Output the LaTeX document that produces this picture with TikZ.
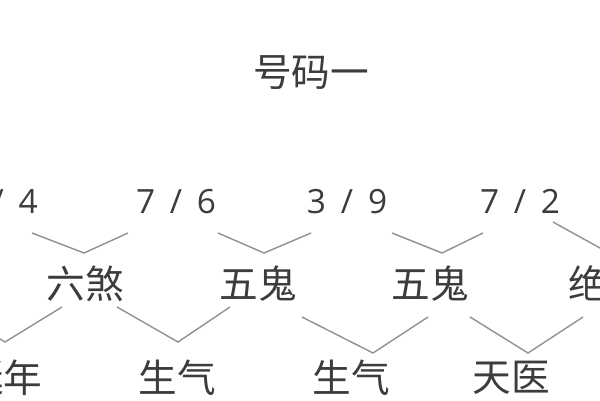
\documentclass[tikz,border=0pt]{standalone}
\usepackage{fontspec}
\newfontfamily\cjk{Noto Sans CJK SC}
\newfontfamily\numfont[WordSpace=1.7]{Open Sans}
\definecolor{inkgray}{RGB}{60,60,60}
\definecolor{linegray}{RGB}{145,145,145}
\usetikzlibrary{positioning}

\begin{document}
\begin{tikzpicture}[
    x=0.03cm, y=-0.03cm,
    % Define styles
    title/.style={font=\cjk\fontsize{33}{40}\selectfont, text=inkgray, inner sep=0pt},
    pair/.style={font=\numfont\fontsize{28.5}{34}\selectfont, text=inkgray, inner sep=0pt, anchor=base},
    star/.style={font=\cjk\fontsize{33}{40}\selectfont, text=inkgray, inner sep=0pt},
    link/.style={draw=linegray, line width=1.2pt}
]

% Frame
\fill[white] (0,0) rectangle (600,400);
\useasboundingbox (0,0) rectangle (600,400);
\clip (0,0) rectangle (600,400);

% Title
\node[title] (title) at (311, 73) {号码一};

% Number pairs
\node[pair, anchor=base east] (p1) at (38, 213) {/ 4};
\node[pair] (p2) at (176, 213) {7 / 6};
\node[pair] (p3) at (347, 213) {3\hspace{0.45em}/ 9};
\node[pair] (p4) at (520, 213) {7 / 2};

% First results
\node[star] (r1) at (85, 284) {六煞};
\node[star] (r2) at (258, 284) {五鬼};
\node[star] (r3) at (430, 284) {五鬼};
\node[star] (r4) at (607, 284) {绝命};

% Second results
\node[star] (s1) at (4, 378) {延年};
\node[star] (s2) at (177, 378) {生气};
\node[star] (s3) at (351, 378) {生气};
\node[star] (s4) at (511, 378) {天医};

% Joints of the first row
\coordinate (a1l) at (32, 233);  \coordinate (a1) at (84, 253);  \coordinate (a1r) at (128, 233);
\coordinate (a2l) at (218, 233); \coordinate (a2) at (264, 253); \coordinate (a2r) at (311, 233);
\coordinate (a3l) at (392, 233); \coordinate (a3) at (442, 253); \coordinate (a3r) at (483, 233);
\coordinate (a4l) at (553, 222); \coordinate (a4) at (609, 253); \coordinate (a4r) at (665, 222);

% Joints of the second row
\coordinate (b1l) at (-52, 307); \coordinate (b1) at (5, 342);   \coordinate (b1r) at (62, 307);
\coordinate (b2l) at (117, 307); \coordinate (b2) at (178, 342); \coordinate (b2r) at (230, 307);
\coordinate (b3l) at (302, 317); \coordinate (b3) at (373, 353); \coordinate (b3r) at (428, 317);
\coordinate (b4l) at (470, 317); \coordinate (b4) at (528, 353); \coordinate (b4r) at (583, 317);

% Connections - pairs to first results
\draw[link] (a1l) -- (a1) -- (a1r);
\draw[link] (a2l) -- (a2) -- (a2r);
\draw[link] (a3l) -- (a3) -- (a3r);
\draw[link] (a4l) -- (a4) -- (a4r);

% Connections - first results to second results
\draw[link] (b1l) -- (b1) -- (b1r);
\draw[link] (b2l) -- (b2) -- (b2r);
\draw[link] (b3l) -- (b3) -- (b3r);
\draw[link] (b4l) -- (b4) -- (b4r);

\end{tikzpicture}
\end{document}
